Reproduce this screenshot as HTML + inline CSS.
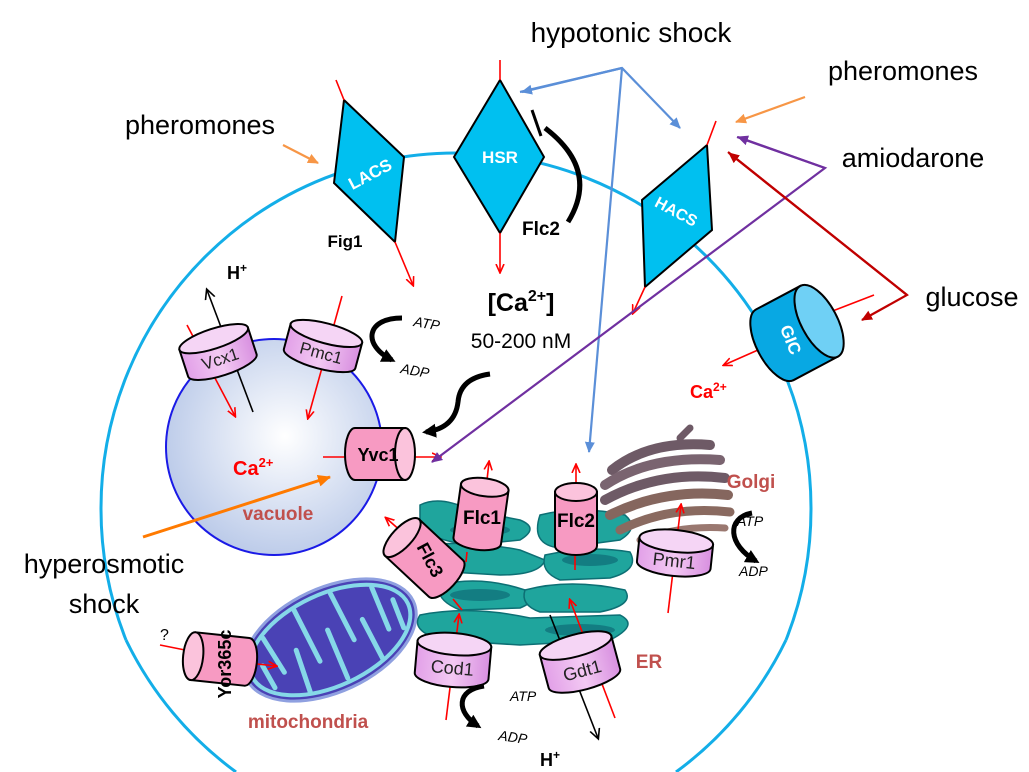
<!DOCTYPE html>
<html><head><meta charset="utf-8"><style>
html,body{margin:0;padding:0;background:#fff;width:1029px;height:772px;overflow:hidden}
svg{display:block}
text{font-family:"Liberation Sans",sans-serif}
</style></head><body>
<svg width="1029" height="772" viewBox="0 0 1029 772" xmlns="http://www.w3.org/2000/svg">
<defs>
<clipPath id="frame"><rect x="0" y="0" width="1029" height="772"/></clipPath>
<marker id="ar" markerWidth="10" markerHeight="10" refX="8" refY="5" orient="auto" markerUnits="userSpaceOnUse"><path d="M0,1 L9,5 L0,9" fill="none" stroke="#f00" stroke-width="1.6"/></marker>
<marker id="ab" markerWidth="12" markerHeight="12" refX="10" refY="6" orient="auto" markerUnits="userSpaceOnUse"><path d="M0,1 L11,6 L0,11 Z" fill="#5b8fd8"/></marker>
<marker id="ao" markerWidth="12" markerHeight="12" refX="10" refY="6" orient="auto" markerUnits="userSpaceOnUse"><path d="M0,1 L11,6 L0,11 Z" fill="#f79646"/></marker>
<marker id="ao2" markerWidth="14" markerHeight="14" refX="12" refY="7" orient="auto" markerUnits="userSpaceOnUse"><path d="M0,1 L13,7 L0,13 Z" fill="#ff7a00"/></marker>
<marker id="ap" markerWidth="12" markerHeight="12" refX="10" refY="6" orient="auto" markerUnits="userSpaceOnUse"><path d="M0,1 L11,6 L0,11 Z" fill="#7030a0"/></marker>
<marker id="ad" markerWidth="12" markerHeight="12" refX="10" refY="6" orient="auto" markerUnits="userSpaceOnUse"><path d="M0,1 L11,6 L0,11 Z" fill="#c00000"/></marker>
<marker id="ak" markerWidth="12" markerHeight="12" refX="9" refY="6" orient="auto" markerUnits="userSpaceOnUse"><path d="M0,1 L10,6 L0,11" fill="none" stroke="#000" stroke-width="1.6"/></marker>
<marker id="akb" markerWidth="16" markerHeight="16" refX="10" refY="8" orient="auto" markerUnits="userSpaceOnUse"><path d="M0,1 L14,8 L0,15 Z" fill="#000"/></marker>
<radialGradient id="vac" cx="0.55" cy="0.45" r="0.6"><stop offset="0" stop-color="#ffffff"/><stop offset="1" stop-color="#b8c8e8"/></radialGradient>
<linearGradient id="vio" x1="0" y1="0" x2="1" y2="0"><stop offset="0" stop-color="#e2a0e8"/><stop offset="0.5" stop-color="#f3c9f3"/><stop offset="1" stop-color="#d890e0"/></linearGradient>
</defs>
<g clip-path="url(#frame)">
<path d="M101,508 A355,355 0 0 1 811,508 A355,355 0 0 1 786,640 M101,508 A355,355 0 0 0 126,640" fill="none" stroke="#13aee8" stroke-width="3"/>
<path d="M786,640 A355,355 0 0 1 676,772 M126,640 A355,355 0 0 0 236,772" fill="none" stroke="#13aee8" stroke-width="3"/>
<circle cx="274" cy="447" r="108" fill="url(#vac)" stroke="#1a1ae6" stroke-width="2"/>

<g transform="translate(330,640) rotate(-25)">
<ellipse cx="0" cy="0" rx="92" ry="52" fill="#4a42b5" stroke="#8fa0e0" stroke-width="3"/>
<ellipse cx="0" cy="0" rx="86" ry="46" fill="none" stroke="#86d8e8" stroke-width="4"/>
<g stroke="#86d8e8" stroke-width="5" fill="none" stroke-linecap="round">
<path d="M-60,-30 L-55,10"/><path d="M-40,40 L-35,-5"/><path d="M-20,-42 L-18,15"/><path d="M0,42 L2,-10"/><path d="M20,-42 L22,10"/><path d="M40,40 L38,-5"/><path d="M60,-30 L58,15"/><path d="M-70,20 L-72,-5"/><path d="M72,20 L74,-10"/>
</g>
</g>

<g fill="#1fa59d" stroke="#0d6f74" stroke-width="1.5">
<path d="M420,505 Q440,495 470,510 L520,520 Q540,528 520,540 L470,545 Q430,540 420,525 Z"/>
<path d="M540,515 Q580,505 625,515 Q640,528 620,540 L560,548 Q530,545 540,515 Z"/>
<path d="M430,545 Q470,540 520,550 L545,560 Q540,575 500,575 L450,572 Q425,565 430,545 Z"/>
<path d="M545,555 Q590,545 630,552 Q640,570 610,578 L560,580 Q540,572 545,555 Z"/>
<path d="M440,585 Q480,575 525,590 Q540,600 520,608 L460,610 Q435,600 440,585 Z"/>
<path d="M525,590 Q570,578 625,590 Q635,605 600,612 L540,612 Q520,605 525,590 Z"/>
<path d="M420,615 Q470,605 530,618 L620,615 Q640,625 610,640 L520,645 L440,640 Q410,630 420,615 Z"/>
</g>
<g fill="#0e6d78" opacity="0.7">
<ellipse cx="480" cy="530" rx="30" ry="6"/><ellipse cx="590" cy="560" rx="28" ry="6"/><ellipse cx="480" cy="595" rx="30" ry="6"/><ellipse cx="580" cy="630" rx="35" ry="6"/>
</g>

<g fill="none" stroke-linecap="round">
<path d="M612,470 Q650,440 710,445" stroke="#6e5a66" stroke-width="10"/>
<path d="M605,485 Q650,455 720,460" stroke="#7a6470" stroke-width="10"/>
<path d="M605,500 Q660,470 725,478" stroke="#6e5a66" stroke-width="10"/>
<path d="M610,515 Q665,488 728,495" stroke="#85665e" stroke-width="10"/>
<path d="M620,530 Q670,505 730,512" stroke="#8a6a60" stroke-width="9"/>
<path d="M640,540 Q680,525 725,528" stroke="#9a7870" stroke-width="7"/>
<path d="M680,438 L690,428" stroke="#6e5a66" stroke-width="7"/>
</g>

<polygon points="344,100 404,157 395,242 334,183" fill="#00c0f0" stroke="#000" stroke-width="2"/>
<text x="370" y="180" fill="#fff" font-size="17" font-weight="bold" text-anchor="middle" transform="rotate(-28 370 174)">LACS</text>
<polygon points="500,80 544,157 500,233 454,157" fill="#00c0f0" stroke="#000" stroke-width="2"/>
<text x="500" y="163" fill="#fff" font-size="17" font-weight="bold" text-anchor="middle">HSR</text>
<polygon points="707,145 712,230 645,287 642,200" fill="#00c0f0" stroke="#000" stroke-width="2"/>
<text x="676" y="217" fill="#fff" font-size="16" font-weight="bold" text-anchor="middle" transform="rotate(28 676 212)">HACS</text>

<g stroke="#f00" stroke-width="1.6" fill="none">
<line x1="336" y1="80" x2="344" y2="100"/>
<line x1="395" y1="242" x2="413" y2="285" marker-end="url(#ar)"/>
<line x1="500" y1="60" x2="500" y2="80"/>
<line x1="500" y1="233" x2="500" y2="272" marker-end="url(#ar)"/>
<line x1="716" y1="121" x2="707" y2="145"/>
<line x1="645" y1="287" x2="633" y2="313" marker-end="url(#ar)"/>
<line x1="874" y1="295" x2="830" y2="312"/>
<line x1="758" y1="350" x2="724" y2="365" marker-end="url(#ar)"/>
<line x1="187" y1="325" x2="235" y2="416" marker-end="url(#ar)"/>
<line x1="342" y1="296" x2="308" y2="418" marker-end="url(#ar)"/>
<line x1="323" y1="457" x2="346" y2="457"/>
<line x1="415" y1="457" x2="440" y2="457" marker-end="url(#ar)"/>
<line x1="160" y1="645" x2="185" y2="650"/>
<line x1="257" y1="664" x2="276" y2="666" marker-end="url(#ar)"/>
<line x1="487" y1="480" x2="489" y2="462" marker-end="url(#ar)"/>
<line x1="576" y1="483" x2="576" y2="465" marker-end="url(#ar)"/>
<line x1="402" y1="532" x2="386" y2="518" marker-end="url(#ar)"/>
<line x1="467" y1="552" x2="466" y2="562"/>
<line x1="575" y1="555" x2="575" y2="570"/>
<line x1="453" y1="599" x2="462" y2="610"/>
<line x1="446" y1="720" x2="459" y2="615" marker-end="url(#ar)"/>
<line x1="615" y1="718" x2="570" y2="600" marker-end="url(#ar)"/>
<line x1="668" y1="613" x2="681" y2="505" marker-end="url(#ar)"/>
</g>
<g stroke="#000" stroke-width="1.6" fill="none">
<line x1="253" y1="412" x2="207" y2="290" marker-end="url(#ak)"/>
<line x1="550" y1="615" x2="598" y2="738" marker-end="url(#ak)"/>
</g>

<g transform="translate(218,352) rotate(-18)">
<path d="M-36,-14 L-36,14 A36,10 0 0 0 36,14 L36,-14 Z" fill="url(#vio)" stroke="#000" stroke-width="2"/><ellipse cx="0" cy="-14" rx="36" ry="10" fill="#f5d5f5" stroke="#000" stroke-width="2"/>
<text x="0" y="13" font-size="17" text-anchor="middle" fill="#222">Vcx1</text></g>
<g transform="translate(323,346) rotate(15)">
<path d="M-37,-13 L-37,13 A37,10 0 0 0 37,13 L37,-13 Z" fill="url(#vio)" stroke="#000" stroke-width="2"/><ellipse cx="0" cy="-13" rx="37" ry="10" fill="#f5d5f5" stroke="#000" stroke-width="2"/>
<text x="0" y="13" font-size="17" text-anchor="middle" fill="#222">Pmc1</text></g>
<g transform="translate(453,660) rotate(5)">
<path d="M-37,-16 L-37,16 A37,11 0 0 0 37,16 L37,-16 Z" fill="url(#vio)" stroke="#000" stroke-width="2"/><ellipse cx="0" cy="-16" rx="37" ry="11" fill="#f5d5f5" stroke="#000" stroke-width="2"/>
<text x="0" y="14" font-size="18" text-anchor="middle" fill="#222">Cod1</text></g>
<g transform="translate(580,662) rotate(-15)">
<path d="M-37,-17 L-37,17 A37,11 0 0 0 37,17 L37,-17 Z" fill="url(#vio)" stroke="#000" stroke-width="2"/><ellipse cx="0" cy="-17" rx="37" ry="11" fill="#f5d5f5" stroke="#000" stroke-width="2"/>
<text x="0" y="15" font-size="18" text-anchor="middle" fill="#222">Gdt1</text></g>
<g transform="translate(675,553) rotate(6)">
<path d="M-37,-12 L-37,12 A37,11 0 0 0 37,12 L37,-12 Z" fill="url(#vio)" stroke="#000" stroke-width="2"/><ellipse cx="0" cy="-12" rx="37" ry="11" fill="#f5d5f5" stroke="#000" stroke-width="2"/>
<text x="0" y="14" font-size="18" text-anchor="middle" fill="#222">Pmr1</text></g>

<g stroke="#000" stroke-width="2">
<g transform="translate(481,514) rotate(8)">
<path d="M-24,-27 L-24,27 A24,9 0 0 0 24,27 L24,-27 Z" fill="#f79ac2"/><ellipse cx="0" cy="-27" rx="24" ry="9" fill="#fbc3dc"/></g>
<g transform="translate(576,519)">
<path d="M-21,-27 L-21,27 A21,9 0 0 0 21,27 L21,-27 Z" fill="#f79ac2"/><ellipse cx="0" cy="-27" rx="21" ry="9" fill="#fbc3dc"/></g>
<g transform="translate(424,558) rotate(-47)">
<path d="M-25,-30 L-25,30 A25,10 0 0 0 25,30 L25,-30 Z" fill="#f79ac2"/><ellipse cx="0" cy="-30" rx="25" ry="10" fill="#fbc3dc"/></g>
<g transform="translate(380,454) rotate(90)">
<path d="M-26,-25 L-26,25 A26,10 0 0 0 26,25 L26,-25 Z" fill="#f79ac2"/><ellipse cx="0" cy="-25" rx="26" ry="10" fill="#fbc3dc"/></g>
<g transform="translate(220,659) rotate(-84)">
<path d="M-24,-27 L-24,27 A24,10 0 0 0 24,27 L24,-27 Z" fill="#f79ac2"/><ellipse cx="0" cy="-27" rx="24" ry="10" fill="#fbc3dc"/></g>
<g transform="translate(797,333) rotate(62)">
<path d="M-40,-25 L-40,25 A40,18 0 0 0 40,25 L40,-25 Z" fill="#08a8e3"/><ellipse cx="0" cy="-25" rx="40" ry="18" fill="#6fd0f5"/></g>
</g>
<g font-weight="bold" text-anchor="middle" fill="#000">
<text x="482" y="524" font-size="19">Flc1</text>
<text x="576" y="527" font-size="19">Flc2</text>
<text x="430" y="566" font-size="18" transform="rotate(62 430 560)">Flc3</text>
<text x="378" y="461" font-size="18">Yvc1</text>
<text x="225" y="670" font-size="18" transform="rotate(-90 225 664)">Yor365c</text>
<text x="790" y="345" font-size="17" fill="#fff" transform="rotate(68 790 340)">GIC</text>
</g>

<g fill="none" stroke-width="2.2">
<polyline points="520,92 622,68 680,128" stroke="#5b8fd8" marker-end="url(#ab)"/>
<line x1="622" y1="68" x2="522" y2="92" stroke="#5b8fd8" marker-end="url(#ab)"/>
<line x1="622" y1="68" x2="589" y2="452" stroke="#5b8fd8" marker-end="url(#ab)"/>
<line x1="283" y1="145" x2="318" y2="163" stroke="#f79646" marker-end="url(#ao)"/>
<line x1="805" y1="97" x2="736" y2="122" stroke="#f79646" marker-end="url(#ao)"/>
<polyline points="737,137 825,168 432,462" stroke="#7030a0" marker-end="url(#ap)"/>
<line x1="825" y1="168" x2="738" y2="137" stroke="#7030a0" marker-end="url(#ap)"/>
<polyline points="728,152 907,295 862,320" stroke="#c00000" marker-end="url(#ad)"/>
<line x1="907" y1="295" x2="729" y2="153" stroke="#c00000" marker-end="url(#ad)"/>
<line x1="143" y1="537" x2="330" y2="477" stroke="#ff7a00" stroke-width="3" marker-end="url(#ao2)"/>
</g>

<g fill="none" stroke="#000" stroke-width="5">
<path d="M568,222 Q600,170 545,128"/>
<path d="M402,318 C366,318 362,345 392,360" marker-end="url(#akb)"/>
<path d="M490,374 Q460,378 458,402 Q455,428 426,432" marker-end="url(#akb)"/>
<path d="M484,686 C456,690 456,712 478,726" marker-end="url(#akb)"/>
<path d="M752,513 C726,518 728,545 756,561" marker-end="url(#akb)"/>
</g>
<line x1="532" y1="110" x2="541" y2="136" stroke="#000" stroke-width="3"/>

<g fill="#000">
<text x="631" y="42" font-size="28" text-anchor="middle">hypotonic shock</text>
<text x="200" y="134" font-size="27" text-anchor="middle">pheromones</text>
<text x="903" y="80" font-size="27" text-anchor="middle">pheromones</text>
<text x="913" y="167" font-size="27" text-anchor="middle">amiodarone</text>
<text x="972" y="306" font-size="27" text-anchor="middle">glucose</text>
<text x="104" y="573" font-size="27" text-anchor="middle">hyperosmotic</text>
<text x="104" y="613" font-size="27" text-anchor="middle">shock</text>
<text x="345" y="247" font-size="17" font-weight="bold" text-anchor="middle">Fig1</text>
<text x="541" y="235" font-size="19" font-weight="bold" text-anchor="middle">Flc2</text>
<text x="227" y="279" font-size="18" font-weight="bold">H<tspan font-size="12" dy="-7">+</tspan></text>
<text x="521" y="311" font-size="25" font-weight="bold" text-anchor="middle">[Ca<tspan font-size="16" dy="-10">2+</tspan><tspan dy="10">]</tspan></text>
<text x="521" y="348" font-size="21" text-anchor="middle">50-200 nM</text>
<text x="413" y="326" font-size="14" font-style="italic" transform="rotate(10 413 326)">ATP</text>
<text x="400" y="373" font-size="14" font-style="italic" transform="rotate(10 400 373)">ADP</text>
<text x="737" y="526" font-size="14" font-style="italic">ATP</text>
<text x="739" y="576" font-size="14" font-style="italic">ADP</text>
<text x="510" y="701" font-size="14" font-style="italic">ATP</text>
<text x="498" y="740" font-size="14" font-style="italic" transform="rotate(8 498 740)">ADP</text>
<text x="540" y="766" font-size="18" font-weight="bold">H<tspan font-size="12" dy="-7">+</tspan></text>
<text x="160" y="640" font-size="16">?</text>
</g>
<text x="233" y="475" font-size="20" font-weight="bold" fill="#f00">Ca<tspan font-size="13" dy="-8">2+</tspan></text>
<text x="690" y="398" font-size="18" font-weight="bold" fill="#f00">Ca<tspan font-size="12" dy="-7">2+</tspan></text>
<g fill="#c0504d" font-weight="bold">
<text x="278" y="520" font-size="19" text-anchor="middle">vacuole</text>
<text x="751" y="488" font-size="19" text-anchor="middle">Golgi</text>
<text x="649" y="668" font-size="19" text-anchor="middle">ER</text>
<text x="308" y="728" font-size="19" text-anchor="middle">mitochondria</text>
</g>
</g>
</svg>
</body></html>
